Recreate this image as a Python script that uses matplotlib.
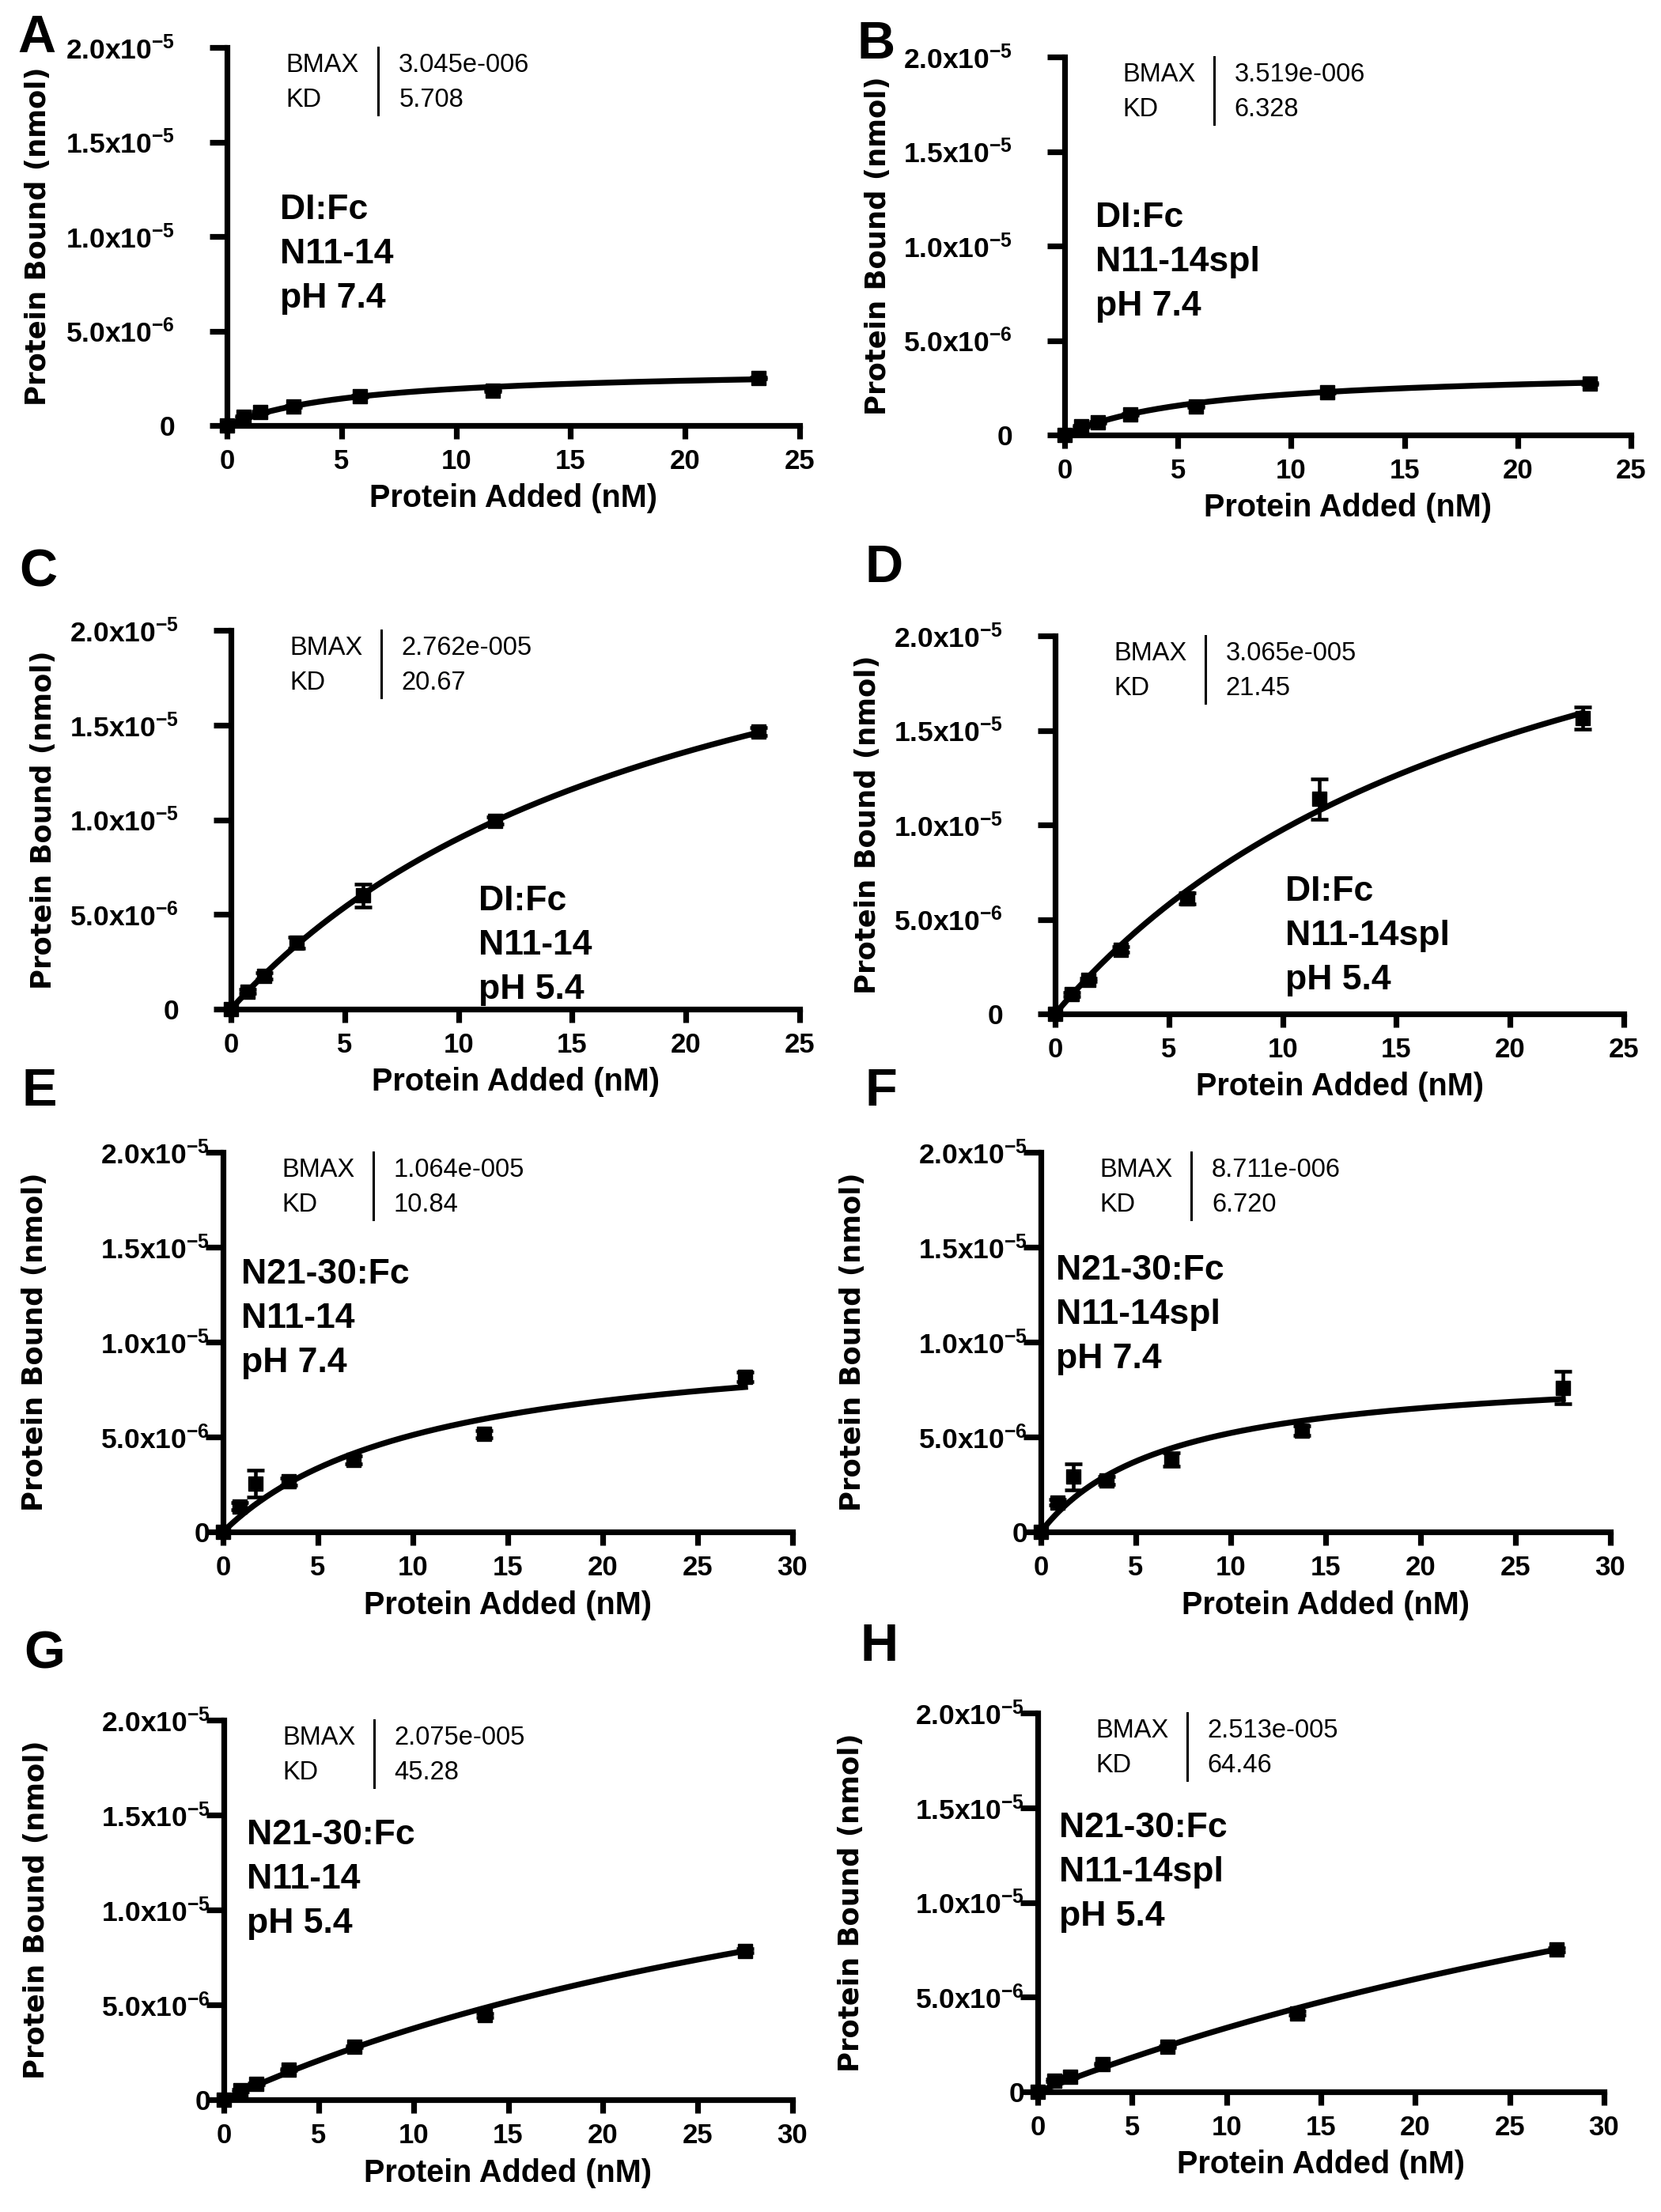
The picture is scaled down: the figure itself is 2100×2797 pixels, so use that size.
import numpy as np
import matplotlib
matplotlib.use("Agg")
import matplotlib.pyplot as plt

plt.rcParams['font.family'] = ['Liberation Sans', 'DejaVu Sans']
plt.rcParams['mathtext.fontset'] = 'custom'
plt.rcParams['mathtext.rm'] = 'Liberation Sans:bold'
plt.rcParams['mathtext.bf'] = 'Liberation Sans:bold'
plt.rcParams['mathtext.it'] = 'Liberation Sans:bold'

# protein added (nM)
dose_dl = [0, 0.725, 1.45, 2.9, 5.8, 11.6, 23.2]
dose_n21 = [0, 0.86, 1.72, 3.44, 6.88, 13.75, 27.5]

# protein bound, in units of 1e-6 nmol (mean and error)
bound_a = [0, 0.45, 0.72, 1.0, 1.55, 1.85, 2.52]
err_a = [0, 0.05, 0.05, 0.05, 0.05, 0.05, 0.05]
bound_b = [0, 0.45, 0.67, 1.1, 1.5, 2.27, 2.72]
err_b = [0, 0.05, 0.05, 0.05, 0.05, 0.05, 0.05]
bound_c = [0, 0.93, 1.75, 3.5, 6.0, 9.95, 14.65]
err_c = [0, 0.1, 0.15, 0.3, 0.6, 0.2, 0.2]
bound_d = [0, 1.03, 1.8, 3.4, 6.1, 11.37, 15.65]
err_d = [0, 0.1, 0.1, 0.15, 0.3, 1.07, 0.6]
bound_e = [0, 1.35, 2.55, 2.65, 3.8, 5.15, 8.15]
err_e = [0, 0.2, 0.7, 0.2, 0.2, 0.2, 0.25]
bound_f = [0, 1.55, 2.9, 2.7, 3.8, 5.35, 7.6]
err_f = [0, 0.15, 0.7, 0.2, 0.35, 0.25, 0.87]
bound_g = [0, 0.48, 0.84, 1.58, 2.8, 4.45, 7.85]
err_g = [0, 0.05, 0.05, 0.05, 0.05, 0.1, 0.1]
bound_h = [0, 0.6, 0.8, 1.45, 2.38, 4.15, 7.5]
err_h = [0, 0.05, 0.05, 0.05, 0.05, 0.1, 0.1]

# one-site fit results shown in each panel
bmax_txt = ["3.045e-006", "3.519e-006", "2.762e-005", "3.065e-005",
            "1.064e-005", "8.711e-006", "2.075e-005", "2.513e-005"]
kd_txt = ["5.708", "6.328", "20.67", "21.45", "10.84", "6.720", "45.28", "64.46"]

conditions = [
    ["DI:Fc", "N11-14", "pH 7.4"],
    ["DI:Fc", "N11-14spl", "pH 7.4"],
    ["DI:Fc", "N11-14", "pH 5.4"],
    ["DI:Fc", "N11-14spl", "pH 5.4"],
    ["N21-30:Fc", "N11-14", "pH 7.4"],
    ["N21-30:Fc", "N11-14spl", "pH 7.4"],
    ["N21-30:Fc", "N11-14", "pH 5.4"],
    ["N21-30:Fc", "N11-14spl", "pH 5.4"],
]
letters = ["A", "B", "C", "D", "E", "F", "G", "H"]

y_ticks = [0, 5e-6, 1e-5, 1.5e-5, 2e-5]
y_ticklabels = ["0", r"5.0x10$^{-6}$", r"1.0x10$^{-5}$", r"1.5x10$^{-5}$", r"2.0x10$^{-5}$"]

W, H = 2100, 2797
# axes boxes in pixels: left, right, top, bottom
rects = [(287, 1011, 60, 538), (1346, 2062, 72, 550),
         (292, 1011, 797, 1276), (1334, 2053, 804, 1282),
         (282, 1002, 1457, 1937), (1316, 2036, 1457, 1937),
         (283, 1002, 2175, 2655), (1312, 2028, 2166, 2645)]
letter_pos = [(22, 18), (1084, 26), (24, 693), (1094, 688),
              (28, 1350), (1094, 1350), (30, 2062), (1088, 2052)]
# condition label: left (axes frac), first baseline (axes frac)
cond_pos = [(0.092, 0.546), (0.054, 0.55), (0.435, 0.261), (0.405, 0.300),
            (0.032, 0.654), (0.026, 0.664), (0.040, 0.672), (0.038, 0.672)]
# right edge of y tick labels, pixels left of the y axis
ylabel_gap = [66, 66, 66, 66, 17, 17, 17, 17]

fig = plt.figure(figsize=(W / 100, H / 100), dpi=100)


def draw_panel(i, dose, bound, err, xmax, xticks):
    l, r, t, b = rects[i]
    ax = fig.add_axes([l / W, 1 - b / H, (r - l) / W, (b - t) / H])
    x = np.asarray(dose)
    y = np.asarray(bound) * 1e-6
    e = np.asarray(err) * 1e-6

    # fitted one-site binding curve from the BMAX / KD in the panel
    bmax = float(bmax_txt[i])
    kd = float(kd_txt[i])
    xs = np.linspace(0, x[-1], 300)
    ax.plot(xs, bmax * xs / (kd + xs), color='black', lw=5.3, zorder=3, clip_on=False)
    ax.errorbar(x, y, yerr=e, fmt='s', color='black', ms=13.5, elinewidth=3.3,
                capsize=8, capthick=3.3, zorder=4, clip_on=False)

    ax.set_xlim(0, xmax)
    ax.set_ylim(0, 2e-5)
    ax.set_xticks(xticks)
    ax.set_yticks(y_ticks)
    for s in ['top', 'right']:
        ax.spines[s].set_visible(False)
    for s in ['left', 'bottom']:
        ax.spines[s].set_linewidth(5.2)
    ax.tick_params(axis='x', width=5.2, length=12.5, labelsize=25, pad=8.3)
    ax.tick_params(axis='y', width=5.2, length=15.8, labelleft=False)
    for lab in ax.get_xticklabels():
        lab.set_fontweight('bold')

    # y tick labels placed by hand so the gap to the axis matches each panel
    xoff = -ylabel_gap[i] / (r - l)
    for yv, txt in zip(y_ticks, y_ticklabels):
        ax.text(xoff, yv, txt, transform=ax.get_yaxis_transform(), ha='right',
                va='center_baseline', fontsize=25.5, fontweight='bold')

    ax.set_xlabel("Protein Added (nM)", fontsize=28.5, fontweight='bold', va='center')
    ax.xaxis.set_label_coords(0.5, -0.193)
    ax.set_ylabel("Protein Bound (nmol)", fontsize=25.5, fontweight='bold',
                  family='DejaVu Sans', va='center')
    ax.yaxis.set_label_coords(-0.33, 0.5)

    # fit table
    ax.text(0.103, 0.936, "BMAX", transform=ax.transAxes, fontsize=23.5, va='baseline')
    ax.text(0.103, 0.844, "KD", transform=ax.transAxes, fontsize=23.5, va='baseline')
    ax.text(0.300, 0.936, bmax_txt[i], transform=ax.transAxes, fontsize=23.5, va='baseline')
    ax.text(0.300, 0.844, kd_txt[i], transform=ax.transAxes, fontsize=23.5, va='baseline')
    ax.plot([0.264, 0.264], [1.0, 0.822], transform=ax.transAxes, color='black',
            lw=2.2, clip_on=False)

    cx, cy = cond_pos[i]
    step = 56 / (b - t)
    for k, line in enumerate(conditions[i]):
        ax.text(cx, cy - k * step, line, transform=ax.transAxes, fontsize=32,
                fontweight='bold', va='baseline', ha='left')

    lx, ly = letter_pos[i]
    fig.text(lx / W, 1 - (ly + 48) / H, letters[i], fontsize=48, fontweight='bold',
             va='baseline', ha='left')
    return ax


ticks25 = [0, 5, 10, 15, 20, 25]
ticks30 = [0, 5, 10, 15, 20, 25, 30]
draw_panel(0, dose_dl, bound_a, err_a, 25, ticks25)
draw_panel(1, dose_dl, bound_b, err_b, 25, ticks25)
draw_panel(2, dose_dl, bound_c, err_c, 25, ticks25)
draw_panel(3, dose_dl, bound_d, err_d, 25, ticks25)
draw_panel(4, dose_n21, bound_e, err_e, 30, ticks30)
draw_panel(5, dose_n21, bound_f, err_f, 30, ticks30)
draw_panel(6, dose_n21, bound_g, err_g, 30, ticks30)
draw_panel(7, dose_n21, bound_h, err_h, 30, ticks30)

fig.savefig("out.png", dpi=100)
